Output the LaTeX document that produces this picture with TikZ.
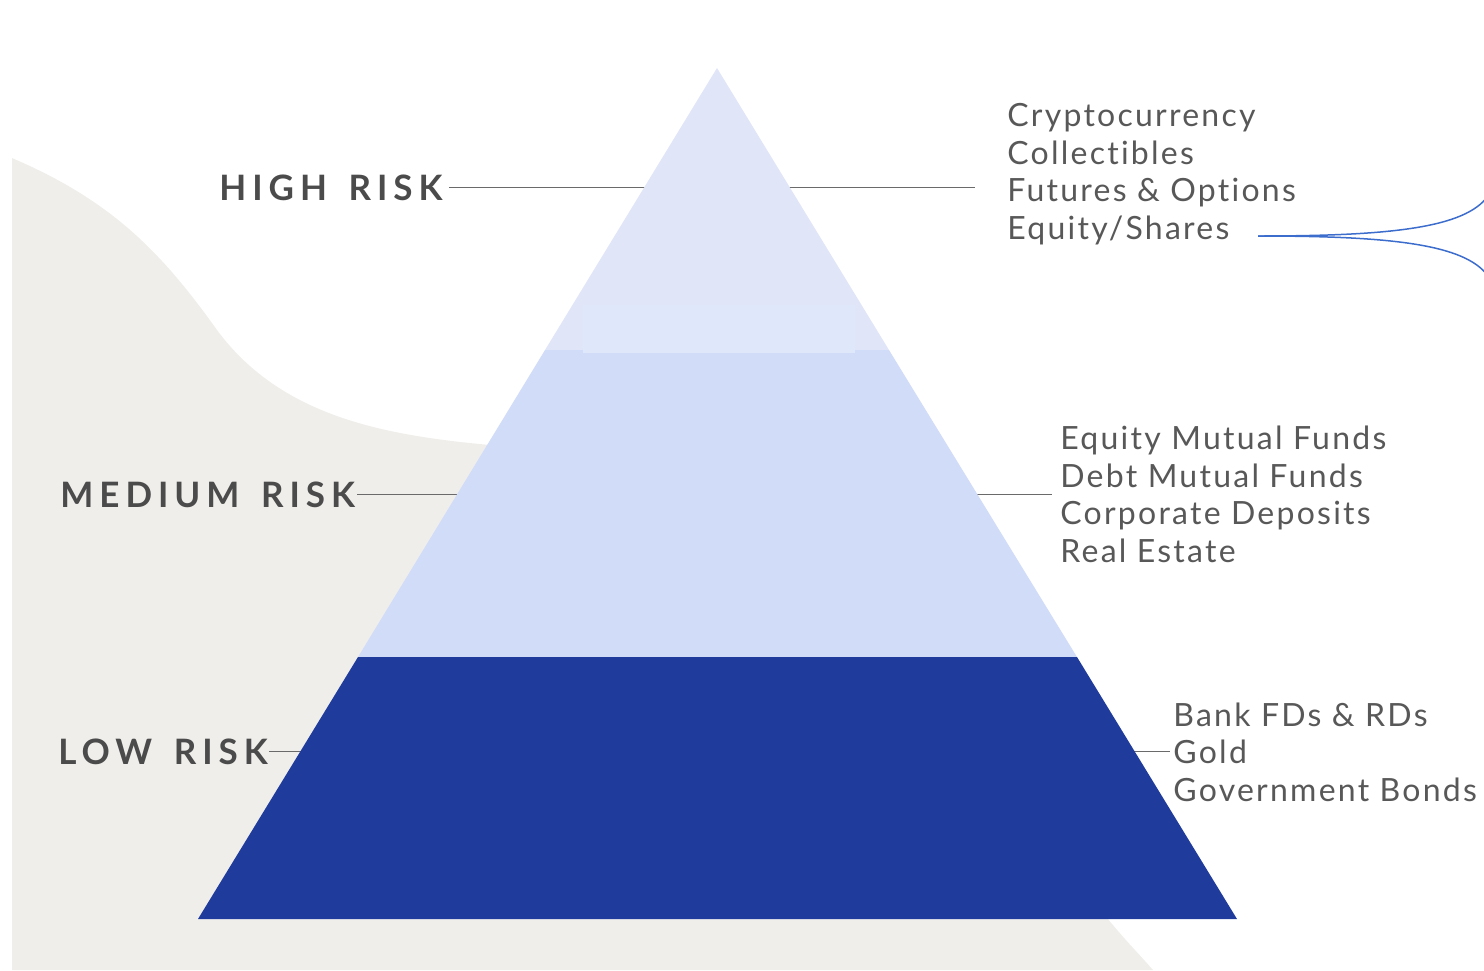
\documentclass[tikz,border=0pt]{standalone}
\usepackage{fontspec}
\setmainfont{Lato}
\newfontfamily\riskfont{Lato}[LetterSpace=17, WordSpace=1.5]
\newfontfamily\listfont{Lato}[LetterSpace=7, Ligatures=NoCommon]

\definecolor{bgsand}{HTML}{EFEEEB}
\definecolor{highblue}{HTML}{E0E5F8}
\definecolor{highglow}{HTML}{DFE7FB}
\definecolor{midblue}{HTML}{D1DCF8}
\definecolor{lowblue}{HTML}{1F3B9C}
\definecolor{inkgray}{HTML}{4B4B4B}
\definecolor{listgray}{HTML}{585858}
\definecolor{leadgray}{HTML}{6A6A6A}
\definecolor{forkblue}{HTML}{3C6DCC}

\tikzset{
  risk/.style={anchor=base west, inner sep=0pt, text=inkgray,
    font=\riskfont\bfseries\fontsize{17.5}{20}\selectfont},
  items/.style={anchor=base west, inner sep=0pt, align=left, text=listgray,
    font=\listfont\fontsize{16}{18.75}\selectfont},
  lead/.style={draw=leadgray, line width=0.7pt},
}

\begin{document}
\begin{tikzpicture}[x=0.5pt,y=-0.5pt]
  \useasboundingbox (0,0) rectangle (1484,970);
  % sand backdrop
  \fill[bgsand] (12,158) .. controls (110,200) and (160,250) .. (217,330)
    .. controls (280,415) and (380,435) .. (490,445)
    .. controls (600,455) and (1000,800) .. (1108,919)
    .. controls (1125,940) and (1140,955) .. (1153,970)
    -- (12,970) -- cycle;

  % risk labels
  \node[risk] (hr) at (219,200) {HIGH RISK};
  \node[risk] (mr) at (60,507) {MEDIUM RISK};
  \node[risk] (lr) at (58,764) {LOW RISK};

  % what sits in each band (base = last line)
  \node[items] (hi) at (1007,239) {Cryptocurrency\\Collectibles\\Futures \& Options\\Equity/Shares};
  \node[items] (mi) at (1060,562) {Equity Mutual Funds\\Debt Mutual Funds\\Corporate Deposits\\Real Estate};
  \node[items] (li) at (1173,801) {Bank FDs \& RDs\\Gold\\Government Bonds};

  % leaders, the pyramid hides their middle
  \draw[lead, shorten <=3pt, shorten >=16pt] (hr.east) -- (hr.east -| hi.west);
  \draw[lead, shorten <=1pt, shorten >=4pt] (mr.east) -- (mr.east -| mi.west);
  \draw[lead, shorten <=0.5pt, shorten >=1.5pt] (lr.east) -- (lr.east -| li.west);

  % pyramid
  \fill[highblue] (717,68) -- (889,350) -- (545,350) -- cycle;
  \fill[midblue] (545,350) -- (889,350) -- (1077,657) -- (358,657) -- cycle;
  \fill[highglow] (583,305) rectangle (855,353);
  \fill[lowblue] (358,657) -- (1077,657) -- (1237,919) -- (198,919) -- cycle;

  % fork off the equity line
  \coordinate (fork) at (1258,236);
  \draw[forkblue, line width=0.75pt] (fork) .. controls (1390,236) and (1465,228) .. (1488,196);
  \draw[forkblue, line width=0.75pt] (fork) .. controls (1390,236) and (1465,244) .. (1488,276);
\end{tikzpicture}
\end{document}
